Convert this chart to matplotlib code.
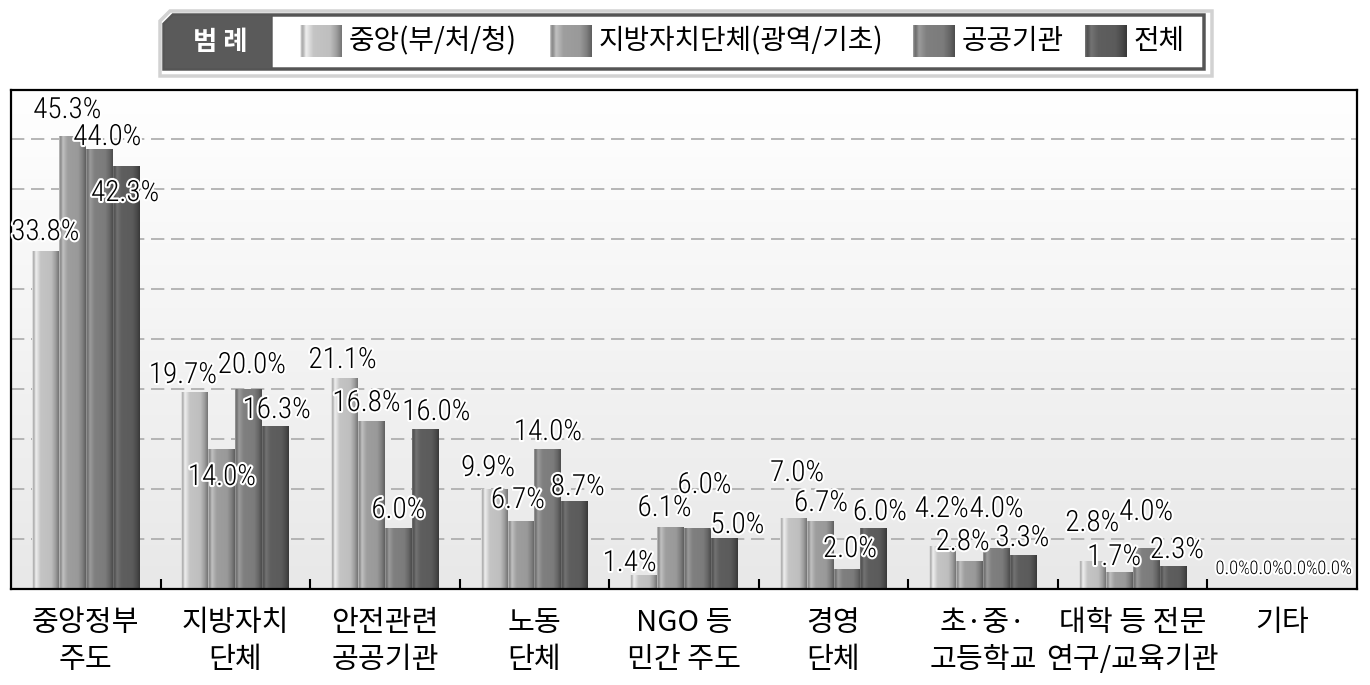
import numpy as np
import matplotlib.pyplot as plt
import matplotlib.patheffects as pe
from matplotlib import font_manager as fm
from matplotlib.patches import Polygon

plt.rcParams['font.family'] = ['Noto Sans CJK KR', 'DejaVu Sans']

# ==========================
# DATA
# ==========================

categories = ["중앙정부\n주도", "지방자치\n단체", "안전관련\n공공기관", "노동\n단체",
              "NGO 등\n민간 주도", "경영\n단체", "초·중·\n고등학교",
              "대학 등 전문\n연구/교육기관", "기타"]
series_names = ["중앙(부/처/청)", "지방자치단체(광역/기초)", "공공기관", "전체"]

central = [33.8, 19.7, 21.1, 9.9, 1.4, 7.0, 4.2, 2.8, 0.0]
local = [45.3, 14.0, 16.8, 6.7, 6.1, 6.7, 2.8, 1.7, 0.0]
public = [44.0, 20.0, 6.0, 14.0, 6.0, 2.0, 4.0, 4.0, 0.0]
total = [42.3, 16.3, 16.0, 8.7, 5.0, 6.0, 3.3, 2.3, 0.0]

# ==========================
# STYLE
# ==========================

base_gray = [0.77, 0.62, 0.50, 0.37]

# label nudges in pixels (dx, dy from bar top)
label_dx = [[0, -12, -2, -6, -14, 4, -1, 0, -9],
            [-5, 0, -5, -3, -6, 1, -7, -5, -2],
            [8, 3, 0, 0, 7, 3, 0, 0, 5],
            [-1, 1, 11, 3, 13, 6, -1, 4, 12]]
label_dy = [[19, 17, 18, 22, 12, 46, 38, 38, 20],
            [26, -28, 18, 22, 20, 19, 19, 15, 20],
            [12, 24, 19, 17, 44, 20, 40, 37, 20],
            [-27, 16, 17, 15, 14, 17, 18, 16, 20]]

# pick a narrow face for the numbers if one is installed
installed = fm.fontManager.ttflist
names = {f.name for f in installed}
num_stretch = 'normal'
if 'Liberation Sans Narrow' in names:
    num_font, num_size, zero_size = 'Liberation Sans Narrow', 19, 13
elif 'Roboto Condensed' in names:
    num_font, num_size, zero_size = 'Roboto Condensed', 21, 13.5
elif any(f.name == 'DejaVu Sans' and f.stretch == 'condensed' for f in installed):
    num_font, num_size, zero_size = 'DejaVu Sans', 18, 12
    num_stretch = 'condensed'
else:
    num_font, num_size, zero_size = 'Roboto', 18, 11.5

# horizontal shading profile for a "cylinder" bar
knots = [0, 0.04, 0.08, 0.14, 0.22, 0.32, 0.72, 0.88, 1.0]
mult = [1.25, 0.85, 0.95, 1.22, 1.12, 1.0, 0.97, 0.8, 0.6]
prof = np.interp(np.linspace(0, 1, 60), knots, mult)


def bar_image(g):
    row = np.clip(prof * g, 0, 1)
    return np.dstack([row, row, row]).reshape(1, -1, 3)


# ==========================
# FIGURE
# ==========================

fig = plt.figure(figsize=(13.7, 6.85), dpi=100)
ax = fig.add_axes([11 / 1370, 1 - 589 / 685, 1346 / 1370, 499 / 685])

ymax = 49.9
x = np.arange(len(categories))
w = 0.18

# background gradient
bg = np.linspace(1.0, 0.91, 100)
bg = np.dstack([bg, bg, bg]).reshape(100, 1, 3)
ax.imshow(bg, extent=(-0.5, 8.5, 0, ymax), aspect='auto', zorder=0,
          interpolation='bilinear')

data = [central, local, public, total]
for j, vals in enumerate(data):
    img = bar_image(base_gray[j])
    for i, v in enumerate(vals):
        xc = x[i] + (j - 1.5) * w
        if v > 0:
            ax.imshow(img, extent=(xc - w / 2, xc + w / 2, 0, v),
                      aspect='auto', zorder=2, interpolation='bilinear')
        small = v == 0
        ax.annotate(f"{v:.1f}%", (xc, v),
                    xytext=(label_dx[j][i], label_dy[j][i]),
                    textcoords='offset pixels', ha='center', va='center',
                    fontsize=zero_size if small else num_size,
                    family=[num_font, 'DejaVu Sans'], fontstretch=num_stretch,
                    fontweight='light', zorder=4,
                    path_effects=[pe.withStroke(linewidth=3, foreground='white')])

ax.set_xlim(-0.5, 8.5)
ax.set_ylim(0, ymax)

ax.set_yticks(np.arange(5, 50, 5))
ax.yaxis.grid(True, color='#aaaaaa', linestyle=(0, (8, 4)), linewidth=1.2,
              zorder=1)
ax.set_axisbelow(True)
ax.tick_params(axis='y', length=0, labelleft=False)

ax.set_xticks(x)
ax.set_xticklabels(categories, fontsize=21, linespacing=1.3)
ax.set_xticks(np.arange(0.5, 8, 1), minor=True)
ax.tick_params(axis='x', which='major', length=0, pad=14)
ax.tick_params(axis='x', which='minor', direction='in', length=7, width=1.5,
               color='black')

for s in ax.spines.values():
    s.set_linewidth(1.6)
    s.set_color('black')

# ==========================
# LEGEND (drawn by hand)
# ==========================

lg = fig.add_axes([0, 0, 1, 1], zorder=5)
lg.set_xlim(0, 1370)
lg.set_ylim(685, 0)
lg.axis('off')

lg.add_patch(Polygon([[160, 21], [170, 11], [1212, 11], [1212, 76], [160, 76]],
                     closed=True, facecolor='white', edgecolor='#d2d2d2',
                     linewidth=2.5))
lg.add_patch(Polygon([[164, 24], [173, 15], [1204, 15], [1204, 69], [164, 69]],
                     closed=True, facecolor='white', edgecolor='#555555',
                     linewidth=2.5))
lg.add_patch(Polygon([[164, 24], [173, 15], [272, 15], [272, 69], [164, 69]],
                     closed=True, facecolor='#5a5a5a', edgecolor='#555555',
                     linewidth=1))
lg.text(220, 42, "범 례", color='white', fontsize=19, fontweight='bold',
        ha='center', va='center')

sw_x = [300, 550, 913, 1085]
for j, name in enumerate(series_names):
    lg.imshow(bar_image(base_gray[j]), extent=(sw_x[j], sw_x[j] + 42, 57, 25),
              aspect='auto', interpolation='bilinear', zorder=3)
    lg.text(sw_x[j] + 49, 41, name, fontsize=20, ha='left', va='center',
            zorder=4)

lg.set_xlim(0, 1370)
lg.set_ylim(685, 0)

fig.savefig("out.png", dpi=100)
